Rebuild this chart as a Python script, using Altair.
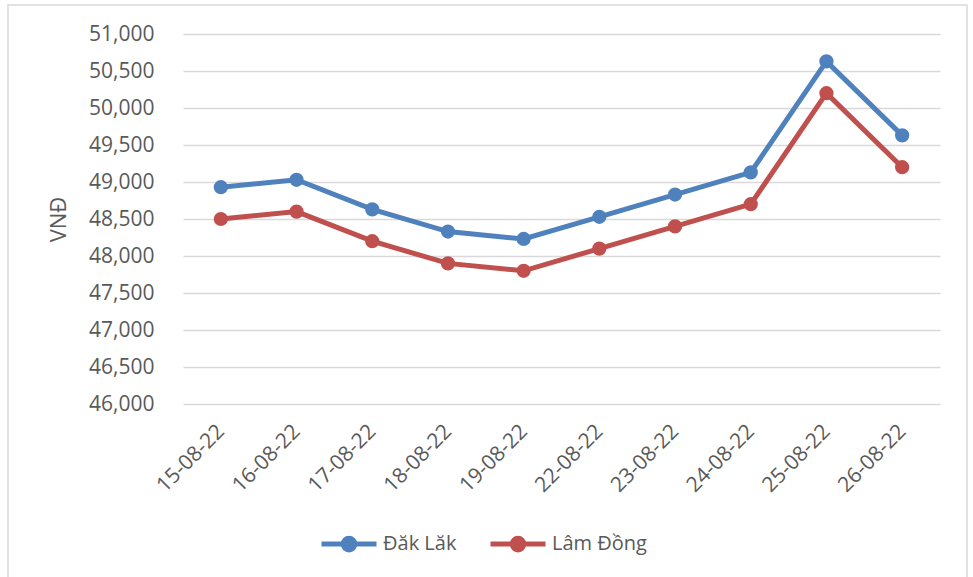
import altair as alt
import pandas as pd

dates = ["15-08-22", "16-08-22", "17-08-22", "18-08-22", "19-08-22",
         "22-08-22", "23-08-22", "24-08-22", "25-08-22", "26-08-22"]
dak_lak = [48930, 49030, 48630, 48330, 48230, 48530, 48830, 49130, 50630, 49630]
lam_dong = [48500, 48600, 48200, 47900, 47800, 48100, 48400, 48700, 50200, 49200]
series_names = ["Đăk Lăk", "Lâm Đồng"]
series_colors = ["#4f81bd", "#c0504d"]
y_ticks = list(range(46000, 51001, 500))

rows = []
for d, v in zip(dates, dak_lak):
    rows.append({"date": d, "series": series_names[0], "value": v})
for d, v in zip(dates, lam_dong):
    rows.append({"date": d, "series": series_names[1], "value": v})
df = pd.DataFrame(rows)

FONT = "Open Sans"
GRAY = "#595959"

legend_symbol = "M-1,0L1,0M0.21,0A0.21,0.21,0,1,1,-0.21,0A0.21,0.21,0,1,1,0.21,0Z"

legend = alt.Legend(
    title=None,
    orient="none",
    direction="horizontal",
    legendX=136,
    legendY=480,
    symbolType=legend_symbol,
    symbolSize=3025,
    symbolStrokeWidth=5,
    symbolOpacity=1,
    labelFont=FONT,
    labelFontSize=20,
    labelColor=GRAY,
    labelOffset=4,
    columnPadding=23,
)
scale = alt.Scale(domain=series_names, range=series_colors)

x = alt.X(
    "date:N",
    sort=dates,
    title=None,
    axis=alt.Axis(labelAngle=-45, labelAlign="right", labelBaseline="middle",
                  labelPadding=24, ticks=False, domain=False, grid=False,
                  labelFont=FONT, labelFontSize=21, labelColor=GRAY),
)
y = alt.Y(
    "value:Q",
    scale=alt.Scale(domain=[46000, 51000], nice=False, zero=False),
    title="VNĐ",
    axis=alt.Axis(values=y_ticks, format=",d", ticks=False, domain=False,
                  labelPadding=29, labelFont=FONT, labelFontSize=21, labelColor=GRAY,
                  titleFont=FONT, titleFontSize=22, titleColor=GRAY,
                  titleFontWeight="normal", titlePadding=18,
                  gridColor="#d9d9d9", gridWidth=1.3),
)

border = alt.Chart(alt.Data(values=[{"a": 1}])).mark_rect(
    fill=None, filled=False, stroke="#d9d9d9", strokeWidth=1.5
).encode(
    x=alt.value(-175), x2=alt.value(784), y=alt.value(-29), y2=alt.value(560)
)

lines = alt.Chart(df).mark_line(strokeWidth=5).encode(
    x=x, y=y, stroke=alt.Stroke("series:N", scale=scale, legend=legend)
)
points = alt.Chart(df).mark_point(size=150, opacity=1, strokeWidth=2).encode(
    x=x, y=y,
    fill=alt.Fill("series:N", scale=scale, legend=legend),
    stroke=alt.Stroke("series:N", scale=scale, legend=legend),
)

chart = alt.layer(border, lines, points).properties(
    width=757, height=370,
    autosize=alt.AutoSizeParams(type="none"),
    padding={"left": 183, "top": 34, "right": 33, "bottom": 173},
    background="white",
).configure_view(stroke=None)

chart.save("out.html", embed_options={"renderer": "svg", "actions": False})
